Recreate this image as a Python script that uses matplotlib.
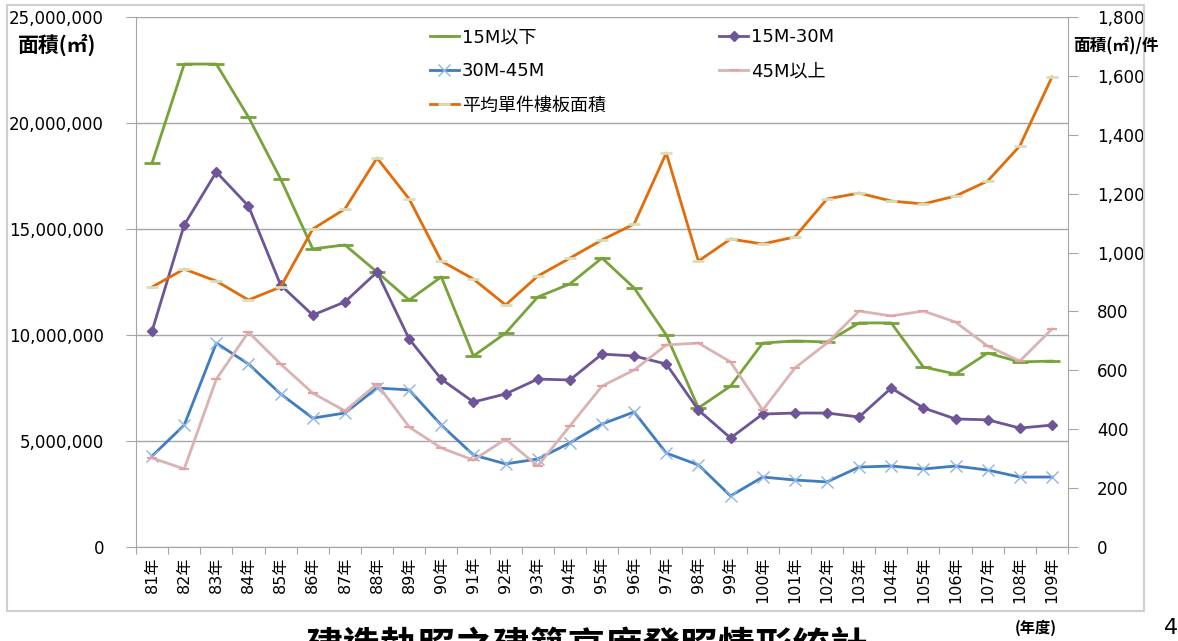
import numpy as np
import matplotlib
matplotlib.use("Agg")
import matplotlib.pyplot as plt
from matplotlib.ticker import FuncFormatter, FixedLocator, MultipleLocator
from matplotlib.patches import Rectangle

plt.rcParams['font.family'] = ['DejaVu Sans', 'Noto Sans CJK TC']
plt.rcParams['axes.unicode_minus'] = False

# 年度 (民國)
years = [f"{y}年" for y in range(81, 110)]

# 各高度級距樓地板面積 (百萬㎡)
area_below_15m = [18.11, 22.78, 22.78, 20.28, 17.36, 14.06, 14.25, 12.97, 11.65, 12.74,
                  9.01, 10.09, 11.79, 12.41, 13.63, 12.22, 10.00, 6.56, 7.59, 9.62,
                  9.72, 9.67, 10.57, 10.57, 8.49, 8.16, 9.15, 8.73, 8.77]
area_15_30m = [10.19, 15.19, 17.69, 16.08, 12.36, 10.94, 11.56, 12.97, 9.81, 7.92,
               6.84, 7.22, 7.92, 7.88, 9.10, 9.01, 8.63, 6.46, 5.14, 6.27,
               6.32, 6.32, 6.13, 7.50, 6.56, 6.04, 6.00, 5.61, 5.75]
area_30_45m = [4.29, 5.75, 9.62, 8.63, 7.22, 6.08, 6.32, 7.50, 7.41, 5.75,
               4.34, 3.92, 4.15, 4.91, 5.80, 6.37, 4.43, 3.87, 2.41, 3.30,
               3.16, 3.07, 3.77, 3.82, 3.68, 3.82, 3.63, 3.30, 3.30]
area_above_45m = [4.20, 3.68, 7.92, 10.14, 8.63, 7.26, 6.42, 7.69, 5.66, 4.67,
                  4.10, 5.09, 3.82, 5.71, 7.59, 8.35, 9.53, 9.62, 8.73, 6.46,
                  8.44, 9.62, 11.13, 10.90, 11.13, 10.61, 9.48, 8.77, 10.28]
# 平均單件樓板面積 (㎡/件)
avg_area = [883, 944, 903, 839, 883, 1080, 1148, 1321, 1182, 971,
            910, 822, 920, 981, 1043, 1097, 1338, 971, 1046, 1029,
            1053, 1182, 1202, 1175, 1165, 1192, 1243, 1362, 1596]

x = np.arange(len(years))
scale = 1e6

fig = plt.figure(figsize=(11.78, 6.41), dpi=100)
ax = fig.add_axes([136 / 1178, 1 - 547 / 641, 932 / 1178, 530 / 641])
ax2 = ax.twinx()

green, purple, blue, pink, orange = '#77A33A', '#6E5597', '#3F7DC0', '#D9B3B3', '#E36C0A'

l1, = ax.plot(x, np.array(area_below_15m) * scale, color=green, lw=2.0,
              marker='_', ms=11, mew=2.0, label='15M以下')
l2, = ax.plot(x, np.array(area_15_30m) * scale, color=purple, lw=2.0,
              marker='D', ms=5.5, label='15M-30M')
l3, = ax.plot(x, np.array(area_30_45m) * scale, color=blue, lw=2.0,
              marker='x', ms=8, mew=1.0, mec='#8DB4E2', label='30M-45M')
l4, = ax.plot(x, np.array(area_above_45m) * scale, color=pink, lw=2.0,
              marker='_', ms=7, mew=1.5, mec='#E6A0A0', label='45M以上')
l5, = ax2.plot(x, avg_area, color=orange, lw=2.0,
               marker='_', ms=8, mew=2.0, mec='#D7DEBA', label='平均單件樓板面積')

ax.set_xlim(-0.5, len(years) - 0.5)
ax.set_ylim(0, 25e6)
ax2.set_ylim(0, 1800)
ax.yaxis.set_major_locator(MultipleLocator(5e6))
ax2.yaxis.set_major_locator(MultipleLocator(200))
ax.yaxis.set_major_formatter(FuncFormatter(lambda v, p: f"{v:,.0f}"))
ax2.yaxis.set_major_formatter(FuncFormatter(lambda v, p: f"{v:,.0f}"))

ax.grid(axis='y', color='#a6a6a6', lw=1.0)
ax.set_axisbelow(True)
for a in (ax, ax2):
    for s in ('top', 'left', 'right', 'bottom'):
        a.spines[s].set_visible(False)
ax.spines['left'].set_visible(True)
ax.spines['bottom'].set_visible(True)
ax2.spines['right'].set_visible(True)
for sp in (ax.spines['left'], ax.spines['bottom'], ax2.spines['right']):
    sp.set_color('#a6a6a6')

# 類別刻度：刻度線在區間邊界、標籤在中央
ax.xaxis.set_major_locator(FixedLocator(np.arange(-0.5, len(years), 1.0)))
ax.xaxis.set_major_formatter(FuncFormatter(lambda v, p: ''))
ax.set_xticks(x, minor=True)
ax.set_xticklabels(years, minor=True, rotation=90, fontsize=11.5)
ax.tick_params(axis='x', which='major', length=5, color='#a6a6a6')
ax.tick_params(axis='x', which='minor', length=0, pad=7)
ax.tick_params(axis='y', length=7, color='#a6a6a6', labelsize=12, pad=16)
ax2.tick_params(axis='y', length=7, color='#a6a6a6', labelsize=12, pad=14)

handles = [l1, l3, l5, l2, l4]
ax.legend(handles=handles, labels=[h.get_label() for h in handles], ncol=2,
          loc='upper left', bbox_to_anchor=(430 / 1178, 1 - 28 / 641),
          bbox_transform=fig.transFigure, frameon=False, fontsize=13,
          handlelength=1.6, handletextpad=0.15, columnspacing=6.3,
          labelspacing=0.9, borderpad=0, borderaxespad=0)

fig.text(18 / 1178, 1 - 45 / 641, '面積(㎡)', fontsize=15, fontweight='bold',
         va='center', ha='left', family=['Noto Sans CJK TC', 'DejaVu Sans'])
fig.text(1073 / 1178, 1 - 46 / 641, '面積(㎡)/件', fontsize=12, fontweight='bold',
         va='center', ha='left', family=['Noto Sans CJK TC', 'DejaVu Sans'])
fig.text(1015 / 1178, 1 - 628 / 641, '(年度)', fontsize=11, fontweight='bold',
         va='center', ha='left', family=['Noto Sans CJK TC', 'DejaVu Sans'])
fig.text(1164 / 1178, 1 - 628 / 641, '4', fontsize=16, va='center', ha='left')
fig.text(305 / 1178, 1 - 628 / 641, '建造執照之建築高度發照情形統計', fontsize=27,
         fontweight='bold', va='top', ha='left',
         family=['Noto Sans CJK TC', 'DejaVu Sans'])

fig.patches.append(Rectangle((7 / 1178, 1 - 611 / 641), 1137 / 1178, 606 / 641,
                             transform=fig.transFigure, fill=False,
                             edgecolor='#d0d0d0', lw=1.5))

fig.savefig('out.png', dpi=100)
